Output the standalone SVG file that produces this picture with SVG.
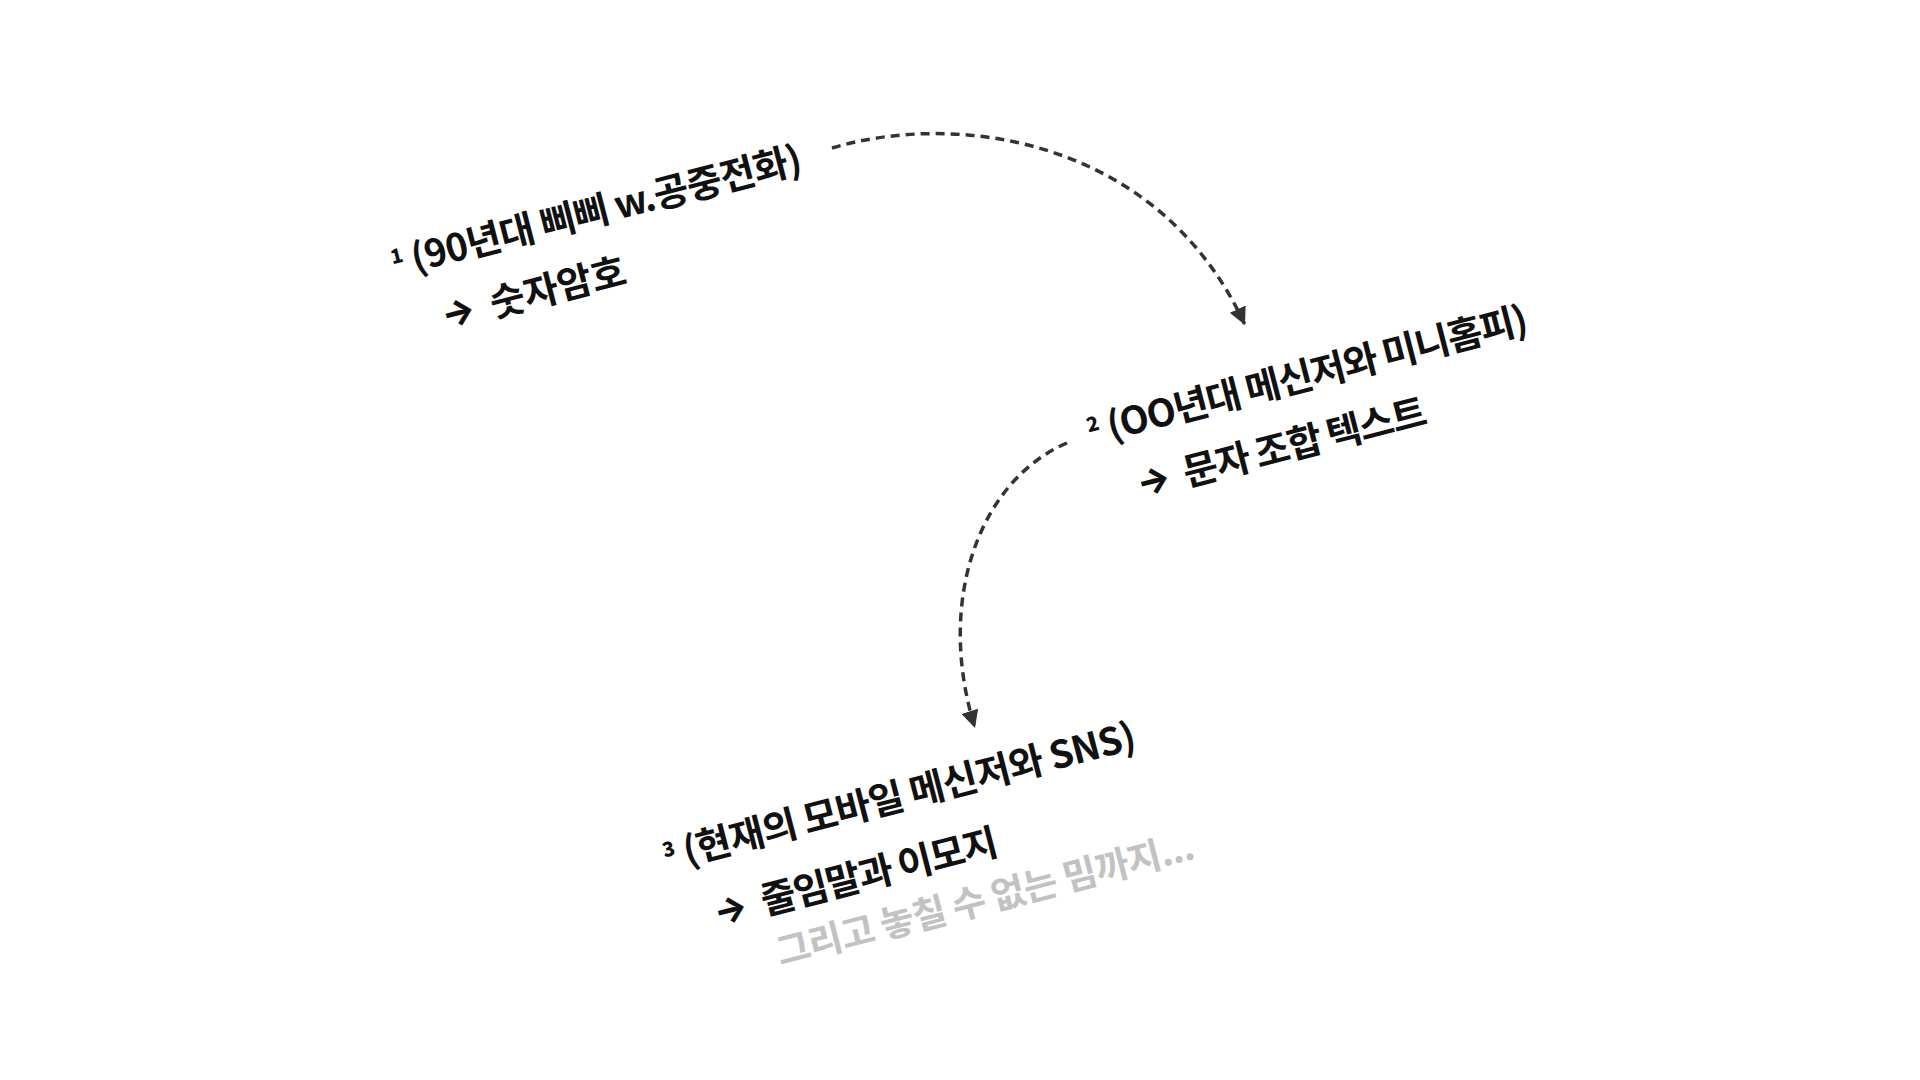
<svg xmlns="http://www.w3.org/2000/svg" width="1920" height="1080" viewBox="0 0 1920 1080">
<defs>
<style>
.t{font-family:"Noto Sans CJK KR","Noto Sans",sans-serif;font-weight:700;fill:#111;font-size:38px}
.sup{font-family:"Noto Sans CJK KR","Noto Sans",sans-serif;font-weight:900;fill:#111;font-size:20px}
.ar{font-family:Inter,"Noto Sans CJK KR",sans-serif;font-weight:800;fill:#111;font-size:36px;text-anchor:middle}
.g{font-family:"Noto Sans CJK KR","Noto Sans",sans-serif;font-weight:700;fill:#c2c2c2;font-size:37px}
.c{fill:none;stroke:#333;stroke-width:3.5;stroke-dasharray:9 6}
</style>
<marker id="ah" viewBox="0 0 10 10" refX="10" refY="5" markerWidth="5" markerHeight="5" orient="auto" markerUnits="strokeWidth">
<path d="M0,0 L10,5 L0,10 z" fill="#333"/>
</marker>
</defs>
<rect width="1920" height="1080" fill="#fff"/>
<g id="connectors">
<path class="c" d="M832 148 C960 110 1160 140 1245 325" marker-end="url(#ah)"/>
<path class="c" d="M1067 443 C980 480 935 600 975 728" marker-end="url(#ah)"/>
</g>
<g id="node1" transform="translate(415,272) rotate(-14.5)">
<text class="sup" x="-20" y="-13">1</text>
<text class="t" x="0" y="0" textLength="402">(90년대 삐삐 w.공중전화)</text>
<text class="ar" x="32" y="62">→</text>
<text class="t" x="65" y="64" textLength="139">숫자암호</text>
</g>
<g id="node2" transform="translate(1111,440) rotate(-14.5)">
<text class="sup" x="-20" y="-13">2</text>
<text class="t" x="0" y="0" textLength="433">(OO년대 메신저와 미니홈피)</text>
<text class="ar" x="31" y="62">→</text>
<text class="t" x="62" y="64" textLength="250">문자 조합 텍스트</text>
</g>
<g id="node3" transform="translate(687,865) rotate(-14.5)">
<text class="sup" x="-20" y="-13">3</text>
<text class="t" x="0" y="0" textLength="466">(현재의 모바일 메신저와 SNS)</text>
<text class="ar" x="31" y="66">→</text>
<text class="t" x="63" y="68" textLength="243">줄임말과 이모지</text>
<text class="g" x="65" y="121" textLength="430">그리고 놓칠 수 없는 밈까지...</text>
</g>
</svg>
